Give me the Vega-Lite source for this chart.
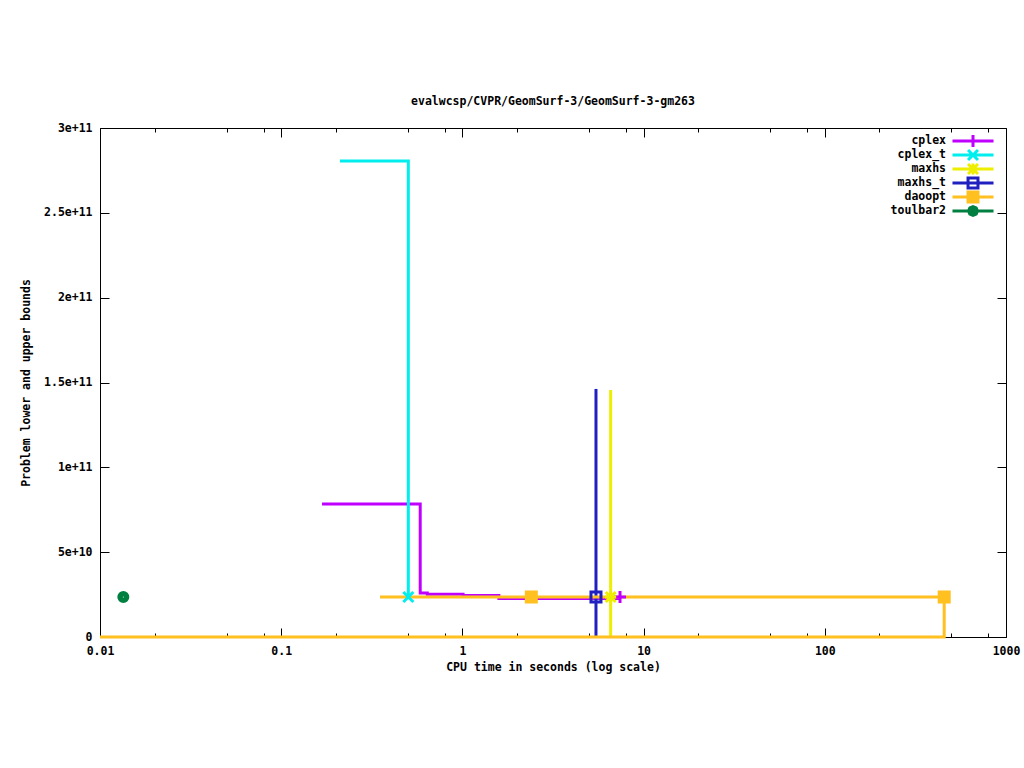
{
  "$schema": "https://vega.github.io/schema/vega-lite/v6.json",
  "width": 906,
  "height": 509,
  "autosize": {"type": "none"},
  "padding": {"left": 100, "top": 128, "right": 18, "bottom": 131},
  "background": "white",
  "title": {"text": "evalwcsp/CVPR/GeomSurf-3/GeomSurf-3-gm263", "font": "DejaVu Sans Mono", "fontSize": 11.5, "fontWeight": "bold", "color": "black", "offset": 15, "anchor": "middle"},
  "config": {
    "view": {"stroke": "black", "strokeWidth": 1},
    "axis": {"domain": false, "grid": false, "labelFont": "DejaVu Sans Mono", "labelFontSize": 11.5, "labelFontWeight": "bold", "labelColor": "black", "tickColor": "black", "tickWidth": 1, "titleFont": "DejaVu Sans Mono", "titleFontSize": 11.5, "titleFontWeight": "bold", "titleColor": "black"},
    "legend": {"rowPadding": -11, "gridAlign": "none"},
    "point": {"filled": false, "strokeWidth": 3, "size": 100, "opacity": 1}
  },
  "datasets": {
    "lines": [
      {"s": "cplex", "t": 0.168, "v": 7.84e10, "o": 1},
      {"s": "cplex", "t": 0.585, "v": 7.84e10, "o": 2},
      {"s": "cplex", "t": 0.585, "v": 2.6e10, "o": 3},
      {"s": "cplex", "t": 0.64, "v": 2.6e10, "o": 4},
      {"s": "cplex", "t": 0.64, "v": 2.52e10, "o": 5},
      {"s": "cplex", "t": 1.008, "v": 2.52e10, "o": 6},
      {"s": "cplex", "t": 1.008, "v": 2.45e10, "o": 7},
      {"s": "cplex", "t": 1.59, "v": 2.45e10, "o": 8},
      {"s": "cplex", "t": 1.59, "v": 2.27e10, "o": 9},
      {"s": "cplex", "t": 7.41, "v": 2.27e10, "o": 10},
      {"s": "cplex_t", "t": 0.211, "v": 2.806e11, "o": 1},
      {"s": "cplex_t", "t": 0.503, "v": 2.806e11, "o": 2},
      {"s": "cplex_t", "t": 0.503, "v": 2.357e10, "o": 3},
      {"s": "maxhs", "t": 6.58, "v": 1.456e11, "o": 1},
      {"s": "maxhs", "t": 6.58, "v": 0, "o": 2},
      {"s": "maxhs_t", "t": 5.46, "v": 1.462e11, "o": 1},
      {"s": "maxhs_t", "t": 5.46, "v": 0, "o": 2},
      {"s": "daoopt", "t": 0.351, "v": 2.357e10, "o": 1},
      {"s": "daoopt", "t": 456, "v": 2.357e10, "o": 2},
      {"s": "daoopt", "t": 456, "v": 0, "o": 3},
      {"s": "daoopt", "t": 0.01, "v": 0, "o": 4}
    ],
    "pts": [
      {"s": "cplex", "t": 7.41, "v": 2.357e10},
      {"s": "cplex_t", "t": 0.503, "v": 2.357e10},
      {"s": "maxhs", "t": 6.58, "v": 2.357e10},
      {"s": "maxhs_t", "t": 5.46, "v": 2.357e10},
      {"s": "daoopt", "t": 2.4, "v": 2.357e10},
      {"s": "daoopt", "t": 456, "v": 2.357e10},
      {"s": "toulbar2", "t": 0.01345, "v": 2.357e10}
    ]
  },
  "resolve": {"axis": {"x": "independent", "y": "independent"}},
  "layer": [
    {
      "data": {"name": "lines"},
      "mark": {"type": "line", "strokeWidth": 3, "strokeCap": "butt", "strokeJoin": "miter"},
      "encoding": {
        "x": {"field": "t", "type": "quantitative", "scale": {"type": "log", "domain": [0.01, 1000], "nice": false},
          "axis": {"orient": "bottom", "values": [0.01, 0.1, 1, 10, 100, 1000], "format": "~g", "tickSize": -9, "labelPadding": 17, "labelFlush": false, "labelOverlap": false, "title": "CPU time in seconds (log scale)", "titlePadding": 5}},
        "y": {"field": "v", "type": "quantitative", "scale": {"domain": [0, 3e11], "nice": false, "zero": true},
          "axis": {"orient": "left", "values": [0, 5e10, 1e11, 1.5e11, 2e11, 2.5e11, 3e11], "labelExpr": "datum.value == 0 ? '0' : format(datum.value, '~e')", "tickSize": -9, "labelPadding": 17, "labelFlush": false, "title": "Problem lower and upper bounds", "titlePadding": 12}},
        "color": {"field": "s", "type": "nominal",
          "scale": {"domain": ["cplex", "cplex_t", "maxhs", "maxhs_t", "daoopt", "toulbar2"], "range": ["#c000ff", "#00eeee", "#eeee00", "#2020c0", "#ffc020", "#008040"]},
          "legend": {
            "orient": "none", "legendX": 865.5, "legendY": 5.5, "title": null, "padding": 0,
            "labelAlign": "right", "labelOffset": -34.5, "labelFont": "DejaVu Sans Mono", "labelFontSize": 11.5, "labelFontWeight": "bold", "labelColor": "black",
            "symbolType": "M-3.42,0H3.42", "symbolSize": 144, "symbolStrokeWidth": 3, "rowPadding": -11,
            "symbolFillColor": "transparent",
            "encode": {"symbols": {"update": {
              "fill": {"value": "transparent"},
              "strokeWidth": {"value": 3},
              "opacity": {"value": 1},
              "shape": {"signal": "datum.value === 'cplex' ? 'M0,-1M0,1M-3.42,0H3.42M0,-1V1' : datum.value === 'cplex_t' ? 'M0,-1M0,1M-3.42,0H3.42M-0.83,-0.83L0.83,0.83M-0.83,0.83L0.83,-0.83' : datum.value === 'maxhs' ? 'M0,-1M0,1M-3.42,0H3.42M0,-0.92V0.92M-0.83,-0.83L0.83,0.83M-0.83,0.83L0.83,-0.83' : datum.value === 'maxhs_t' ? 'M0,-1M0,1M-3.42,0H3.42M-0.83,-0.83H0.83V0.83H-0.83Z' : datum.value === 'daoopt' ? 'M0,-1M0,1M-3.42,0H3.42M-0.83,-0.83H0.83V0.83H-0.83ZM-0.5,-0.5H0.5V0.5H-0.5ZM-0.17,-0.17H0.17V0.17H-0.17Z' : 'M0,-1M0,1M-3.42,0H3.42M-0.75,0L-0.53,-0.53L0,-0.75L0.53,-0.53L0.75,0L0.53,0.53L0,0.75L-0.53,0.53ZM-0.3,0L0,-0.3L0.3,0L0,0.3Z'"}
            }}}
          }},
        "order": {"field": "o", "type": "quantitative"}
      }
    },
    {
      "data": {"name": "pts"},
      "transform": [{"filter": "datum.s === 'cplex'"}],
      "mark": {"type": "point", "shape": "M-1.2,0H1.2M0,-1.2V1.2"},
      "encoding": {
        "x": {"field": "t", "type": "quantitative", "scale": {"type": "log", "domain": [0.01, 1000], "nice": false},
          "axis": {"orient": "bottom", "values": [0.02, 0.05, 0.08, 0.2, 0.5, 0.8, 2, 5, 8, 20, 50, 80, 200, 500, 800], "tickSize": -4, "labels": false, "title": null}},
        "y": {"field": "v", "type": "quantitative", "scale": {"domain": [0, 3e11], "nice": false},
          "axis": {"orient": "right", "values": [0, 5e10, 1e11, 1.5e11, 2e11, 2.5e11, 3e11], "tickSize": -9, "labels": false, "title": null}},
        "color": {"field": "s", "type": "nominal"}
      }
    },
    {
      "data": {"name": "pts"},
      "transform": [{"filter": "datum.s === 'cplex_t'"}],
      "mark": {"type": "point", "shape": "M-1,-1L1,1M-1,1L1,-1"},
      "encoding": {
        "x": {"field": "t", "type": "quantitative", "scale": {"type": "log", "domain": [0.01, 1000], "nice": false},
          "axis": {"orient": "top", "values": [0.01, 0.1, 1, 10, 100, 1000], "tickSize": -9, "labels": false, "title": null}},
        "y": {"field": "v", "type": "quantitative", "axis": null},
        "color": {"field": "s", "type": "nominal"}
      }
    },
    {
      "data": {"name": "pts"},
      "transform": [{"filter": "datum.s === 'maxhs'"}],
      "mark": {"type": "point", "shape": "M-1.1,0H1.1M0,-1.1V1.1M-1,-1L1,1M-1,1L1,-1"},
      "encoding": {
        "x": {"field": "t", "type": "quantitative", "scale": {"type": "log", "domain": [0.01, 1000], "nice": false},
          "axis": {"orient": "top", "values": [0.02, 0.05, 0.08, 0.2, 0.5, 0.8, 2, 5, 8, 20, 50, 80, 200, 500, 800], "tickSize": -4, "labels": false, "title": null}},
        "y": {"field": "v", "type": "quantitative", "axis": null},
        "color": {"field": "s", "type": "nominal"}
      }
    },
    {
      "data": {"name": "pts"},
      "transform": [{"filter": "datum.s === 'maxhs_t'"}],
      "mark": {"type": "point", "shape": "M-1,-1H1V1H-1Z"},
      "encoding": {
        "x": {"field": "t", "type": "quantitative", "axis": null},
        "y": {"field": "v", "type": "quantitative", "axis": null},
        "color": {"field": "s", "type": "nominal"}
      }
    },
    {
      "data": {"name": "pts"},
      "transform": [{"filter": "datum.s === 'daoopt'"}],
      "mark": {"type": "point", "shape": "M-1,-1H1V1H-1ZM-0.6,-0.6H0.6V0.6H-0.6ZM-0.2,-0.2H0.2V0.2H-0.2Z"},
      "encoding": {
        "x": {"field": "t", "type": "quantitative", "axis": null},
        "y": {"field": "v", "type": "quantitative", "axis": null},
        "color": {"field": "s", "type": "nominal"}
      }
    },
    {
      "data": {"name": "pts"},
      "transform": [{"filter": "datum.s === 'toulbar2'"}],
      "mark": {"type": "point", "shape": "M-0.9,0A0.9,0.9,0,1,0,0.9,0A0.9,0.9,0,1,0,-0.9,0M-0.4,0A0.4,0.4,0,1,0,0.4,0A0.4,0.4,0,1,0,-0.4,0"},
      "encoding": {
        "x": {"field": "t", "type": "quantitative", "axis": null},
        "y": {"field": "v", "type": "quantitative", "axis": null},
        "color": {"field": "s", "type": "nominal"}
      }
    }
  ]
}
